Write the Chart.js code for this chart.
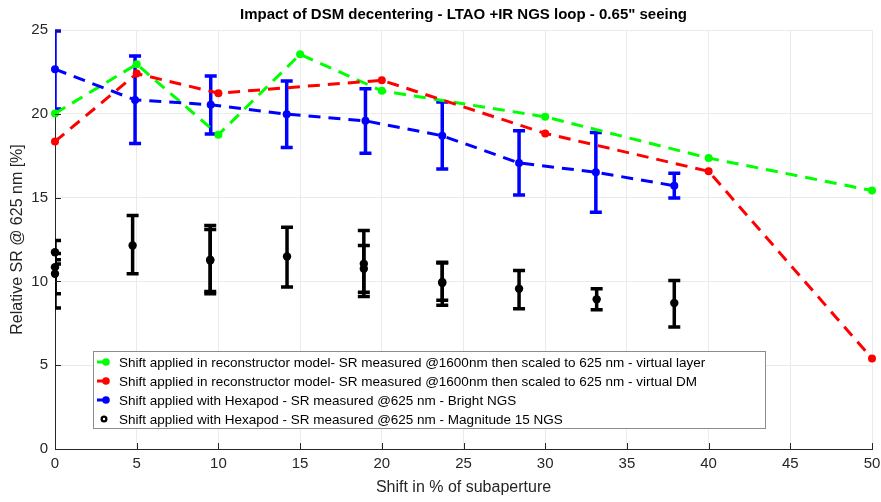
<!DOCTYPE html>
<html>
<head>
<meta charset="utf-8">
<script src="https://cdn.jsdelivr.net/npm/chart.js@4"></script>
<style>
  html, body { margin: 0; padding: 0; background: #fff; }
  #c { display: block; }
</style>
</head>
<body>
<canvas id="c" width="881" height="502"></canvas>
<script>
// --- data ---
const titleText = 'Impact of DSM decentering - LTAO +IR NGS loop - 0.65" seeing';
const xTitle = 'Shift in % of subaperture';
const yTitle = 'Relative SR @ 625 nm [%]';

const labels = [
  'Shift applied in reconstructor model- SR measured @1600nm then scaled to 625 nm - virtual layer',
  'Shift applied in reconstructor model- SR measured @1600nm then scaled to 625 nm - virtual DM',
  'Shift applied with Hexapod - SR measured @625 nm - Bright NGS',
  'Shift applied with Hexapod - SR measured @625 nm - Magnitude 15 NGS'
];

const greenX = [0, 5, 10, 15, 20, 30, 40, 50];
const greenY = [20.02, 22.96, 18.75, 23.55, 21.37, 19.82, 17.36, 15.42];

const redX = [0, 5, 10, 20, 30, 40, 50];
const redY = [18.35, 22.4, 21.23, 22.0, 18.83, 16.57, 5.4];

const blueX = [0, 4.9, 9.53, 14.18, 19.0, 23.7, 28.4, 33.1, 37.9];
const blueY = [22.66, 20.83, 20.54, 19.98, 19.58, 18.69, 17.07, 16.51, 15.71];
const blueLow = [20.28, 18.23, 18.79, 17.99, 17.64, 16.71, 15.16, 14.13, 14.98];
const blueHigh = [24.94, 23.45, 22.26, 21.96, 21.5, 20.71, 18.99, 18.89, 16.45];

const blackX = [0, 0, 0, 4.75, 9.5, 9.5, 14.2, 18.9, 18.9, 23.7, 23.7, 28.4, 33.15, 37.9];
const blackY = [11.74, 10.85, 10.46, 12.14, 11.25, 11.3, 11.49, 11.05, 10.76, 9.96, 9.9, 9.56, 8.93, 8.71];
const blackLow = [11.04, 8.41, 9.27, 10.46, 9.27, 9.4, 9.66, 9.1, 9.36, 8.87, 8.57, 8.37, 8.31, 7.28];
const blackHigh = [12.44, 11.29, 11.66, 13.93, 13.1, 13.33, 13.23, 13.04, 12.14, 11.15, 11.1, 10.65, 9.56, 10.06];

const xTicks = [0, 5, 10, 15, 20, 25, 30, 35, 40, 45, 50];
const yTicks = [0, 5, 10, 15, 20, 25];

const FONT = '"Liberation Sans", Arial, Helvetica, sans-serif';
const TXT = '#262626';

const pts = (xs, ys) => xs.map((x, i) => ({ x: x, y: ys[i] }));

// error bars, inner ticks, title and legend drawn by hand
const extras = {
  id: 'extras',
  beforeDatasetsDraw(chart) {
    const { ctx, chartArea: a, scales: { x, y } } = chart;
    ctx.save();
    ctx.beginPath();
    ctx.rect(a.left, a.top - 1, a.right - a.left, a.bottom - a.top + 1);
    ctx.clip();
    const bars = [
      { xs: blueX, lo: blueLow, hi: blueHigh, color: '#0000ff', w: 3.5 },
      { xs: blackX, lo: blackLow, hi: blackHigh, color: '#000000', w: 3.5 }
    ];
    bars.forEach(b => {
      ctx.strokeStyle = b.color;
      ctx.lineWidth = b.w;
      ctx.lineCap = 'butt';
      b.xs.forEach((v, i) => {
        const px = x.getPixelForValue(v);
        const p1 = y.getPixelForValue(b.lo[i]);
        const p2 = y.getPixelForValue(b.hi[i]);
        ctx.beginPath();
        ctx.moveTo(px, p1); ctx.lineTo(px, p2);
        ctx.moveTo(px - 6, p1); ctx.lineTo(px + 6, p1);
        ctx.moveTo(px - 6, p2); ctx.lineTo(px + 6, p2);
        ctx.stroke();
      });
    });
    ctx.restore();
  },
  afterDraw(chart) {
    const { ctx, chartArea: a, scales: { x, y } } = chart;
    ctx.save();
    // inward ticks
    ctx.strokeStyle = '#262626';
    ctx.lineWidth = 1;
    ctx.beginPath();
    xTicks.forEach(v => {
      const px = Math.round(x.getPixelForValue(v)) + 0.5;
      ctx.moveTo(px, a.bottom); ctx.lineTo(px, a.bottom - 6);
    });
    yTicks.forEach(v => {
      const py = Math.round(y.getPixelForValue(v)) + 0.5;
      ctx.moveTo(a.left, py); ctx.lineTo(a.left + 6, py);
    });
    ctx.stroke();

    // title
    ctx.fillStyle = '#000';
    ctx.font = 'bold 15px ' + FONT;
    ctx.textAlign = 'center';
    ctx.textBaseline = 'middle';
    ctx.fillText(titleText, (a.left + a.right) / 2, 15);

    // legend
    const lx = 93, ly = 351, lw = 672, lh = 77;
    ctx.fillStyle = '#fff';
    ctx.fillRect(lx, ly, lw, lh);
    ctx.strokeStyle = '#8c8c8c';
    ctx.lineWidth = 1;
    ctx.strokeRect(lx + 0.5, ly + 0.5, lw, lh);
    ctx.font = '13.5px ' + FONT;
    ctx.textAlign = 'left';
    chart.data.datasets.forEach((ds, i) => {
      const cy = 362 + i * 19;
      if (ds.showLine) {
        ctx.strokeStyle = ds.borderColor;
        ctx.lineWidth = 3;
        ctx.beginPath();
        ctx.moveTo(97, cy); ctx.lineTo(107, cy);
        ctx.stroke();
        ctx.fillStyle = ds.borderColor;
        ctx.beginPath(); ctx.arc(106, cy, 3.8, 0, Math.PI * 2); ctx.fill();
      } else {
        ctx.fillStyle = '#000';
        ctx.beginPath(); ctx.arc(104, cy, 3.5, 0, Math.PI * 2); ctx.fill();
        ctx.fillStyle = '#fff';
        ctx.beginPath(); ctx.arc(104, cy, 1.2, 0, Math.PI * 2); ctx.fill();
      }
      ctx.fillStyle = '#000';
      ctx.fillText(ds.label, 119, cy + 1);
    });
    ctx.restore();
  }
};

new Chart(document.getElementById('c'), {
  type: 'scatter',
  data: {
    datasets: [
      { label: labels[0], data: pts(greenX, greenY), showLine: true, borderColor: '#00ff00', backgroundColor: '#00ff00',
        borderWidth: 3, borderDash: [12, 8], pointRadius: 4, pointBorderWidth: 0, clip: false, order: 3 },
      { label: labels[1], data: pts(redX, redY), showLine: true, borderColor: '#ff0000', backgroundColor: '#ff0000',
        borderWidth: 3, borderDash: [12, 8], pointRadius: 4, pointBorderWidth: 0, clip: false, order: 2 },
      { label: labels[2], data: pts(blueX, blueY), showLine: true, borderColor: '#0000ff', backgroundColor: '#0000ff',
        borderWidth: 3, borderDash: [12, 8], pointRadius: 4, pointBorderWidth: 0, clip: false, order: 1 },
      { label: labels[3], data: pts(blackX, blackY), showLine: false, borderColor: '#000000', backgroundColor: '#000000',
        pointRadius: 4.2, pointBorderWidth: 0, clip: false, order: 0 }
    ]
  },
  options: {
    responsive: false,
    animation: false,
    layout: { padding: { top: 30, right: 9, left: 0, bottom: 0 } },
    plugins: { legend: { display: false }, title: { display: false }, tooltip: { enabled: false } },
    scales: {
      x: {
        type: 'linear', min: 0, max: 50,
        afterBuildTicks: s => { s.ticks = xTicks.map(v => ({ value: v })); },
        afterFit: s => { s.height = 53; s.paddingLeft = 0; s.paddingRight = 0; },
        grid: { color: '#ebebeb', drawTicks: false },
        border: { color: '#262626', width: 1 },
        ticks: { color: TXT, font: { family: FONT, size: 15 }, padding: 6, maxRotation: 0 },
        title: { display: true, text: xTitle, color: TXT, font: { family: FONT, size: 16 }, padding: { top: 0, bottom: 5 } }
      },
      y: {
        type: 'linear', min: 0, max: 25,
        afterBuildTicks: s => { s.ticks = yTicks.map(v => ({ value: v })); },
        afterFit: s => { s.width = 55; s.paddingTop = 0; s.paddingBottom = 0; },
        grid: { color: '#ebebeb', drawTicks: false },
        border: { color: '#262626', width: 1 },
        ticks: { color: TXT, font: { family: FONT, size: 15 }, padding: 7 },
        title: { display: true, text: yTitle, color: TXT, font: { family: FONT, size: 16 }, padding: { top: 8, bottom: 0 } }
      }
    }
  },
  plugins: [extras]
});
</script>
</body>
</html>
